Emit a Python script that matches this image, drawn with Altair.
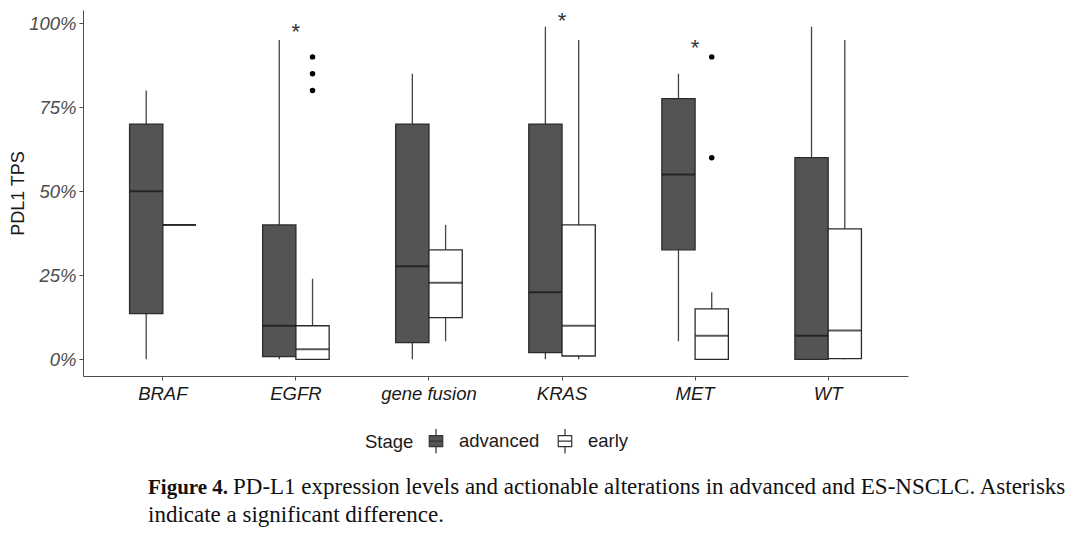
import altair as alt
import pandas as pd

categories = ["BRAF", "EGFR", "gene fusion", "KRAS", "MET", "WT"]
stages = ["advanced", "early"]

# five-number summaries (percent), advanced stage
adv_low = [0, 0, 0, 0, 5.4, 0]
adv_q1 = [13.6, 0.8, 5, 2, 32.6, 0]
adv_med = [50, 10, 27.7, 20, 55, 7]
adv_q3 = [70, 40, 70, 70, 77.6, 60]
adv_high = [80, 95, 85, 99, 85, 99]

# early stage
early_low = [40, 0, 5.4, 0, 0, 0]
early_q1 = [40, 0, 12.4, 1, 0, 0.2]
early_med = [40, 3, 22.8, 10, 7, 8.6]
early_q3 = [40, 10, 32.6, 40, 15, 38.8]
early_high = [40, 24, 40, 95, 20, 95]

# outliers
out_gene = ["EGFR", "EGFR", "EGFR", "MET", "MET"]
out_stage = ["early", "early", "early", "early", "early"]
out_val = [80, 85, 90, 60, 90]

# significance asterisks
sig_gene = ["EGFR", "KRAS", "MET"]
sig_val = [98.5, 102, 93.8]

caption_bold = "Figure 4."
caption_1 = "PD-L1 expression levels and actionable alterations in advanced and ES-NSCLC. Asterisks"
caption_2 = "indicate a significant difference."

rows = []
for i, g in enumerate(categories):
    rows.append(dict(gene=g, stage="advanced", low=adv_low[i], q1=adv_q1[i],
                     med=adv_med[i], q3=adv_q3[i], high=adv_high[i]))
    rows.append(dict(gene=g, stage="early", low=early_low[i], q1=early_q1[i],
                     med=early_med[i], q3=early_q3[i], high=early_high[i]))
box_df = pd.DataFrame(rows)
out_df = pd.DataFrame(dict(gene=out_gene, stage=out_stage, val=out_val))
sig_df = pd.DataFrame(dict(gene=sig_gene, val=sig_val))
cap_df = pd.DataFrame(dict(a=[caption_bold], b=[caption_1], c=[caption_2]))

FONT = "Liberation Sans"
SERIF = "Liberation Serif"

x_enc = alt.X("gene:N", sort=categories,
              scale=alt.Scale(paddingInner=0, paddingOuter=0.1),
              axis=alt.Axis(title=None, labelFontStyle="italic", labelFontSize=18.5,
                            labelColor="#1a1a1a", labelFont=FONT, labelAngle=0,
                            domainColor="#4d4d4d", tickColor="#4d4d4d",
                            tickSize=4, labelPadding=4))
xo_enc = alt.XOffset("stage:N", sort=stages,
                     scale=alt.Scale(domain=stages, paddingInner=0, paddingOuter=1.0))
y_scale = alt.Scale(domain=[-4.95, 103.95], nice=False, zero=False)
y_axis = alt.Axis(title="PDL1 TPS", values=[0, 25, 50, 75, 100],
                  labelExpr="datum.value + '%'", labelFontStyle="italic",
                  labelFontSize=18.5, labelColor="#4d4d4d", labelFont=FONT,
                  titleFont=FONT, titleFontSize=18, titleFontWeight="normal",
                  titleColor="#1a1a1a", titlePadding=1, grid=False,
                  domainColor="#4d4d4d", tickColor="#4d4d4d", tickSize=4,
                  labelPadding=3)

base = alt.Chart(box_df)

whisk = base.mark_rule(color="#444444", strokeWidth=1.3).encode(
    x=x_enc, xOffset=xo_enc,
    y=alt.Y("low:Q", scale=y_scale, axis=y_axis), y2="high:Q")

boxes = base.mark_bar(stroke="#2b2b2b", strokeWidth=1.3).encode(
    x=x_enc, xOffset=xo_enc,
    y=alt.Y("q1:Q", scale=y_scale), y2="q3:Q",
    fill=alt.Fill("stage:N", sort=stages,
                  scale=alt.Scale(domain=stages, range=["#545454", "#ffffff"]),
                  legend=alt.Legend(title="Stage", orient="none", legendX=282,
                                    legendY=418, direction="horizontal",
                                    titleOrient="left", titleFontSize=18.5,
                                    titleFontWeight="normal", titleFont=FONT,
                                    titleColor="#1a1a1a", labelFont=FONT,
                                    labelFontSize=18.5, labelColor="#1a1a1a",
                                    symbolType="M-0.55,-0.45H0.55V0.45H-0.55Z M0,-0.45V-1 M0,0.45V1 M-0.55,0H0.55",
                                    symbolSize=600, symbolStrokeColor="#333333",
                                    symbolStrokeWidth=1.2, columnPadding=12,
                                    labelOffset=10, titlePadding=9)))

med = base.mark_tick(color="#111111", thickness=2, size=33).encode(
    x=x_enc, xOffset=xo_enc, y=alt.Y("med:Q", scale=y_scale))

outl = alt.Chart(out_df).mark_circle(size=30, color="black", opacity=1).encode(
    x=x_enc, xOffset=xo_enc, y=alt.Y("val:Q", scale=y_scale))

stars = alt.Chart(sig_df).mark_text(text="*", fontSize=22, font=FONT,
                                    color="#333333", baseline="middle", dy=4).encode(
    x=x_enc, y=alt.Y("val:Q", scale=y_scale))

cap = alt.Chart(cap_df)
cap_a = cap.mark_text(font=SERIF, fontSize=21, fontWeight="bold",
                      align="left", baseline="alphabetic", color="#111111").encode(
    x=alt.value(65), y=alt.value(484), text="a:N")
cap_b = cap.mark_text(font=SERIF, fontSize=23,
                      align="left", baseline="alphabetic", color="#111111").encode(
    x=alt.value(150), y=alt.value(484), text="b:N")
cap_c = cap.mark_text(font=SERIF, fontSize=23,
                      align="left", baseline="alphabetic", color="#111111").encode(
    x=alt.value(65), y=alt.value(512), text="c:N")

chart = alt.layer(whisk, boxes, med, outl, stars, cap_a, cap_b, cap_c).properties(
    width=825, height=366,
    autosize=alt.AutoSizeParams(type="none"),
    padding={"left": 75, "top": 2, "right": 164, "bottom": 152},
).configure(background="white").configure_view(strokeWidth=0, stroke="transparent")

chart.save("out.html", embed_options={"renderer": "svg", "actions": False})
